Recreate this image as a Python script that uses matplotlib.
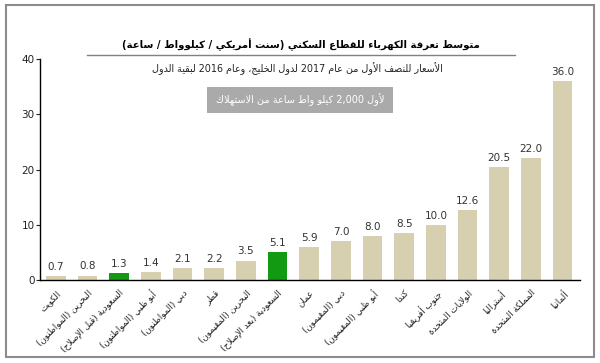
import re

import matplotlib
matplotlib.use("Agg")
import matplotlib.pyplot as plt
from matplotlib.lines import Line2D
from matplotlib.patches import Rectangle

# Data
countries = [
    "الكويت",
    "البحرين (المواطنون)",
    "السعودية (قبل الإصلاح)",
    "أبو ظبي (المواطنون)",
    "دبي (المواطنون)",
    "قطر",
    "البحرين (المقيمون)",
    "السعودية (بعد الإصلاح)",
    "عمان",
    "دبي (المقيمون)",
    "أبو ظبي (المقيمون)",
    "كندا",
    "جنوب أفريقيا",
    "الولايات المتحدة",
    "أستراليا",
    "المملكة المتحدة",
    "ألمانيا",
]
tariffs = [0.7, 0.8, 1.3, 1.4, 2.1, 2.2, 3.5, 5.1, 5.9, 7.0, 8.0, 8.5, 10.0, 12.6, 20.5, 22.0, 36.0]
highlight = ["السعودية (قبل الإصلاح)", "السعودية (بعد الإصلاح)"]
y_ticks = [0, 10, 20, 30, 40]

title = "متوسط تعرفة الكهرباء للقطاع السكني (سنت أمريكي / كيلوواط / ساعة)"
subtitle = "الأسعار للنصف الأول من عام 2017 لدول الخليج، وعام 2016 لبقية الدول"
note = "لأول 2,000 كيلو واط ساعة من الاستهلاك"

BEIGE = "#d6d0b1"
GREEN = "#129a12"


# matplotlib has no Arabic shaping, so map letters to presentation forms
# (U+FE80 block, in Unicode order) and reorder for right-to-left display.
_LETTERS = [("ء", 1), ("آ", 2), ("أ", 2), ("ؤ", 2), ("إ", 2), ("ئ", 4), ("ا", 2), ("ب", 4),
            ("ة", 2), ("ت", 4), ("ث", 4), ("ج", 4), ("ح", 4), ("خ", 4), ("د", 2), ("ذ", 2),
            ("ر", 2), ("ز", 2), ("س", 4), ("ش", 4), ("ص", 4), ("ض", 4), ("ط", 4), ("ظ", 4),
            ("ع", 4), ("غ", 4), ("ف", 4), ("ق", 4), ("ك", 4), ("ل", 4), ("م", 4), ("ن", 4),
            ("ه", 4), ("و", 2), ("ى", 2), ("ي", 4)]
FORMS = {}
_code = 0xFE80
for _ch, _n in _LETTERS:
    FORMS[_ch] = [chr(_code + k) for k in range(_n)]
    _code += _n
LAM_ALEF = {"آ": ("\ufef5", "\ufef6"), "أ": ("\ufef7", "\ufef8"),
            "إ": ("\ufef9", "\ufefa"), "ا": ("\ufefb", "\ufefc")}
MIRROR = {"(": ")", ")": "("}


def joins_next(c):
    return c in FORMS and len(FORMS[c]) == 4


def joinable(c):
    return c in FORMS and len(FORMS[c]) >= 2


def shape(text):
    out = []
    i, n = 0, len(text)
    while i < n:
        c = text[i]
        if c not in FORMS:
            out.append(c)
            i += 1
            continue
        prev = text[i - 1] if i > 0 else ""
        linked_prev = joins_next(prev) and joinable(c)
        if c == "ل" and i + 1 < n and text[i + 1] in LAM_ALEF:
            iso, fin = LAM_ALEF[text[i + 1]]
            out.append(fin if linked_prev else iso)
            i += 2
            continue
        nxt = text[i + 1] if i + 1 < n else ""
        linked_next = joins_next(c) and joinable(nxt)
        forms = FORMS[c]
        if linked_prev and linked_next:
            out.append(forms[3])
        elif linked_prev:
            out.append(forms[1])
        elif linked_next:
            out.append(forms[2])
        else:
            out.append(forms[0])
        i += 1
    return "".join(out)


def rtl(text):
    tokens = re.findall(r"\d[\d,.]*\d|\d|.", shape(text))
    return "".join(MIRROR.get(t, t) for t in reversed(tokens))


plt.rcParams["font.family"] = ["DejaVu Sans"]

fig = plt.figure(figsize=(6.0, 3.63), dpi=100)
ax = fig.add_axes([40 / 600, 1 - 280 / 363, 540 / 600, 221 / 363])

colors = [GREEN if c in highlight else BEIGE for c in countries]
x = list(range(len(countries)))
bars = ax.bar(x, tariffs, width=0.62, color=colors)
ax.bar_label(bars, labels=[f"{v:.1f}" for v in tariffs], padding=3, fontsize=7.5, color="#333333")

ax.set_xlim(-0.5, len(countries) - 0.45)
ax.set_ylim(0, 40)
ax.set_yticks(y_ticks)
ax.tick_params(axis="y", length=3, width=0.8, labelsize=7.5, pad=1, colors="#222222")
ax.set_xticks(x)
ax.set_xticklabels([rtl(c) for c in countries], rotation=45, ha="right", va="top",
                   rotation_mode="anchor", fontsize=6.3, color="#222222")
ax.tick_params(axis="x", length=0, pad=6)
for side in ("top", "right"):
    ax.spines[side].set_visible(False)
for side in ("left", "bottom"):
    ax.spines[side].set_color("black")
    ax.spines[side].set_linewidth(1.0)

# Titles, underline and grey note box (figure pixel positions / size)
W, H = 600, 363
fig.text(301 / W, 1 - 45 / H, rtl(title), ha="center", va="center", fontsize=7.3, fontweight="bold")
fig.add_artist(Line2D([87 / W, 515 / W], [1 - 55 / H, 1 - 55 / H], color="#808080", lw=1.0))
fig.text(297 / W, 1 - 69 / H, rtl(subtitle), ha="center", va="center", fontsize=6.9, color="#222222")
fig.add_artist(Rectangle((207 / W, 1 - 113 / H), 186 / W, 26 / H, facecolor="#aaaaaa",
                         edgecolor="none"))
fig.text(300 / W, 1 - 100 / H, rtl(note), ha="center", va="center", fontsize=7, color="white")

# Outer frame
fig.add_artist(Rectangle((6 / W, 6 / H), 588 / W, 352 / H, fill=False,
                         edgecolor="#8c8c8c", lw=1.5))

fig.savefig("out.png", dpi=100)
